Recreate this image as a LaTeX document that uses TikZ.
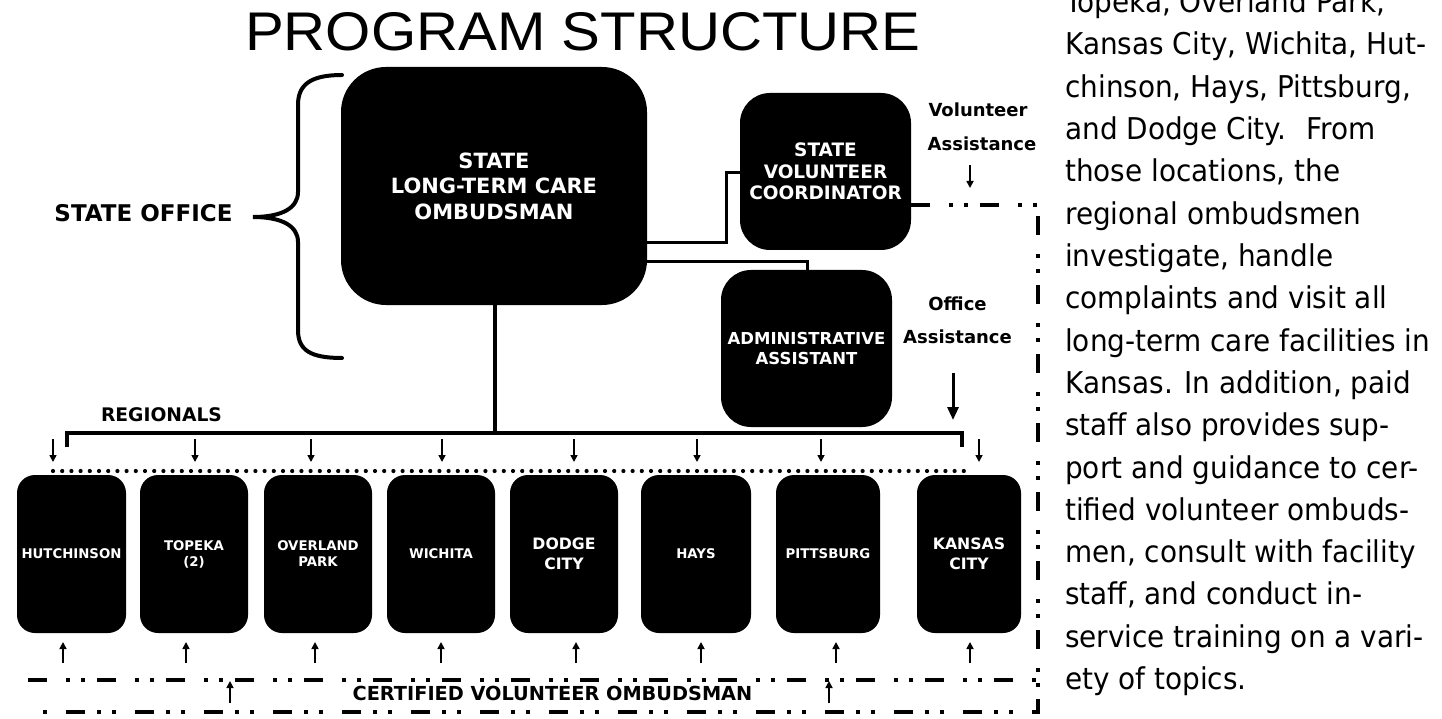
\documentclass[tikz,border=0pt]{standalone}
\usepackage{fontspec}
\setmainfont{DejaVu Sans}
\newfontfamily\ttl{Liberation Sans}
\newfontfamily\para{DejaVu Sans}[FakeStretch=0.93]
\usetikzlibrary{arrows.meta}
\begin{document}
\begin{tikzpicture}[x=1pt,y=-1pt,
  box/.style={fill=black, draw=none, text=white, align=center, inner sep=0pt},
  rbox/.style={box, minimum height=158pt, rounded corners=18pt, font=\bfseries\fontsize{13.3}{16}\selectfont},
  rboxL/.style={rbox, font=\bfseries\fontsize{15.7}{20}\selectfont},
  lab/.style={inner sep=0pt, font=\bfseries\fontsize{18}{22}\selectfont},
  conn/.style={line width=3pt},
  arr/.style={line width=1.6pt, -{Triangle[length=7pt,width=7pt]}},
  dd/.style={line width=3.5pt, dash pattern=on 19pt off 19pt on 4pt off 11pt on 4pt off 12pt},
  ]
\useasboundingbox (0,0) rectangle (1442,719);

% title
\node[anchor=south west, inner sep=0pt] (title) at (245,51) {\resizebox{675pt}{38pt}{\ttl PROGRAM STRUCTURE}};

% main boxes
\node[box, minimum width=306pt, minimum height=238pt, rounded corners=45pt,
      font=\bfseries\fontsize{21}{25.5}\selectfont] (main) at (494,186) {STATE\\LONG-TERM CARE\\OMBUDSMAN};
\node[box, minimum width=171pt, minimum height=157pt, rounded corners=30pt,
      font=\bfseries\fontsize{18.5}{21.5}\selectfont] (svc) at (825.5,171.5) {STATE\\VOLUNTEER\\COORDINATOR};
\node[box, minimum width=171pt, minimum height=157pt, rounded corners=30pt,
      font=\bfseries\fontsize{16.5}{19.5}\selectfont] (adm) at (806.5,348.5) {ADMINISTRATIVE\\ASSISTANT};

% regional boxes
\node[rbox, minimum width=109pt] (hut) at (71.5,554) {HUTCHINSON};
\node[rbox, minimum width=108pt] (top) at (194,554) {TOPEKA\\(2)};
\node[rbox, minimum width=108pt] (ovp) at (318,554) {OVERLAND\\PARK};
\node[rbox, minimum width=108pt] (wic) at (441,554) {WICHITA};
\node[rboxL, minimum width=108pt] (dod) at (564,554) {DODGE\\CITY};
\node[rbox, minimum width=110pt] (hay) at (696,554) {HAYS};
\node[rbox, minimum width=104pt] (pit) at (828,554) {PITTSBURG};
\node[rboxL, minimum width=104pt] (kan) at (969,554) {KANSAS\\CITY};

% labels
\node[inner sep=0pt, font=\bfseries\fontsize{23}{28}\selectfont] (so) at (143.5,213) {STATE OFFICE};
\node[inner sep=0pt, font=\bfseries\fontsize{18.7}{22}\selectfont] (reg) at (161.5,415) {REGIONALS};
\node[lab] (vol1) at (978,110) {Volunteer};
\node[lab] (vol2) at (982,144) {Assistance};
\node[lab] (off1) at (957.5,303.5) {Office};
\node[lab] (off2) at (957.5,337) {Assistance};
\node[inner sep=0pt, font=\bfseries\fontsize{19.3}{23}\selectfont] (cvo) at (552.5,693) {CERTIFIED VOLUNTEER OMBUDSMAN};

% brace
\draw[line width=4pt, line cap=round]
  (342,75) .. controls (310,75) and (298,85) .. (298,105) -- (298,192)
  .. controls (298,208) and (282,217) .. (253,217)
  .. controls (282,217) and (298,226) .. (298,242) -- (298,330)
  .. controls (298,350) and (310,358) .. (342,358);

% connectors from main box
\coordinate (e0) at (726,243);
\coordinate (e1) at (726,173);
\coordinate (e2) at (807,262);
\draw[conn] (main.east |- e0) -- (e0) -- (e1) -- (svc.west |- e1);
\draw[conn] (main.east |- e2) -- (e2) -- (e2 |- adm.north);

\coordinate (bus) at (495,433);
\coordinate (bl) at (67,447);
\coordinate (br) at (962,447);
\draw[line width=4pt] (main.south -| bus) -- (bus);
\draw[line width=3.5pt] (bl) |- (bus) -| (br);

% arrows to regionals
\foreach \x in {53,195,311,442,574,697,821,979}
  \draw[arr] (\x,439) -- (\x,462);
\draw[line width=4.2pt, line cap=round, dash pattern=on 0pt off 9.2pt] (53,471) -- (972,471);

% arrows from volunteers
\foreach \x in {63,186,315,441,576,701,836,970}
  \draw[arr] (\x,663) -- (\x,642);
\draw[arr] (230,703) -- (230,681);
\draw[arr] (829,703) -- (829,681);

% assistance arrows
\draw[arr] (970,165) -- (970,188);
\draw[line width=3pt, -{Triangle[length=13pt,width=11pt]}] (953,373) -- (953,420);

% dash-dot lines
\coordinate (vc) at (1038,205);
\coordinate (vb) at (1038,712);
\coordinate (lb) at (37,712);
\coordinate (ul) at (28,680);
\coordinate (ur) at (1038,680);
\draw[dd] (svc.east |- vc) -- (vc) -- (vb) -- (lb);
\draw[dd] (ul) -- (ur);

% paragraph
\foreach \t [count=\i from 0] in {
  {Topeka, Overland Park,},
  {Kansas City, Wichita, Hut-},
  {chinson, Hays, Pittsburg,},
  {and Dodge City.~ From},
  {those locations, the},
  {regional ombudsmen},
  {investigate, handle},
  {complaints and visit all},
  {long-term care facilities in},
  {Kansas. In addition, paid},
  {staff also provides sup-},
  {port and guidance to cer-},
  {tified volunteer ombuds-},
  {men, consult with facility},
  {staff, and conduct in-},
  {service training on a vari-},
  {ety of topics.}}
  \node[anchor=base west, inner sep=0pt, font=\para\fontsize{30}{36}\selectfont] (p\i) at (1065,12.7+42.3*\i) {\t};
\end{tikzpicture}
\end{document}
